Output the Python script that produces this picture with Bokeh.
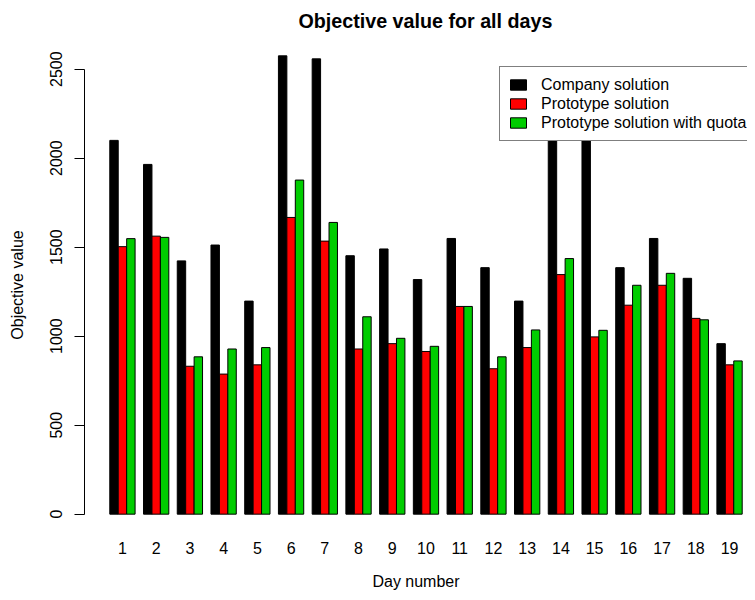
from bokeh.plotting import figure
from bokeh.models import Range1d, FixedTicker, Legend, LegendItem
from bokeh.embed import file_html
from bokeh.resources import INLINE

# ---- data ----
days = [str(i) for i in range(1, 20)]
company = [2100, 1965, 1423, 1512, 1197, 2575, 2558, 1452, 1490, 1318,
           1549, 1385, 1197, 2300, 2200, 1385, 1549, 1325, 958]
prototype = [1503, 1562, 831, 787, 839, 1667, 1534, 928, 958, 914,
             1167, 817, 936, 1346, 996, 1174, 1286, 1100, 839]
quota = [1548, 1555, 884, 928, 936, 1877, 1639, 1109, 988, 943,
         1167, 884, 1035, 1436, 1033, 1286, 1353, 1092, 861]
series_names = ["Company solution", "Prototype solution", "Prototype solution with quota"]
series_colors = ["#000000", "#FF0000", "#00CD00"]
y_ticks = [0, 500, 1000, 1500, 2000, 2500]

FONT = "Liberation Sans"

p = figure(width=747, height=592, output_backend="svg", toolbar_location=None,
           x_range=Range1d(-2, 76.63), y_range=Range1d(-103, 2678),
           min_border_left=84, min_border_right=0, min_border_top=37, min_border_bottom=58,
           title="Objective value for all days")
p.outline_line_color = None
p.xgrid.visible = False
p.ygrid.visible = False
p.background_fill_color = "white"
p.border_fill_color = "white"

p.title.text_font = FONT
p.title.text_font_size = "19.7px"
p.title.text_font_style = "bold"
p.title.align = "left"
p.title.offset = 214
p.title.standoff = 12
p.title.text_color = "black"

n = len(days)
renderers = []
for j, (vals, color) in enumerate(zip([company, prototype, quota], series_colors)):
    xs = [1 + 4 * i + j + 0.5 for i in range(n)]
    r = p.vbar(x=xs, top=vals, bottom=0, width=1, fill_color=color,
               line_color="black", line_width=1)
    renderers.append(r)

centers = [1 + 4 * i + 1.5 for i in range(n)]
p.xaxis.ticker = FixedTicker(ticks=centers)
p.xaxis.major_label_overrides = {c: d for c, d in zip(centers, days)}
p.xaxis.axis_line_color = None
p.xaxis.major_tick_line_color = None
p.xaxis.minor_tick_line_color = None
p.xaxis.major_label_standoff = 3
p.xaxis.major_label_text_font = FONT
p.xaxis.major_label_text_font_size = "16px"
p.xaxis.major_label_text_color = "black"
p.xaxis.axis_label = "Day number"
p.xaxis.axis_label_text_font = FONT
p.xaxis.axis_label_text_font_size = "16px"
p.xaxis.axis_label_text_font_style = "normal"
p.xaxis.axis_label_text_color = "black"
p.xaxis.axis_label_standoff = 16

p.yaxis.ticker = FixedTicker(ticks=y_ticks)
p.yaxis.bounds = (0, 2500)
p.yaxis.major_label_orientation = "vertical"
p.yaxis.minor_tick_line_color = None
p.yaxis.major_tick_in = 0
p.yaxis.major_tick_out = 10
p.yaxis.axis_line_color = "black"
p.yaxis.major_tick_line_color = "black"
p.yaxis.major_label_standoff = 12
p.yaxis.major_label_text_font = FONT
p.yaxis.major_label_text_font_size = "16px"
p.yaxis.major_label_text_color = "black"
p.yaxis.axis_label = "Objective value"
p.yaxis.axis_label_text_font = FONT
p.yaxis.axis_label_text_font_size = "16px"
p.yaxis.axis_label_text_font_style = "normal"
p.yaxis.axis_label_text_color = "black"
p.yaxis.axis_label_standoff = 22

legend = Legend(
    items=[LegendItem(label=nm, renderers=[r]) for nm, r in zip(series_names, renderers)],
    location=(415, 391),
    label_text_font=FONT, label_text_font_size="16px", label_text_color="black",
    glyph_width=20, glyph_height=13, label_height=19, spacing=0,
    padding=8, label_standoff=13, label_width=300,
    border_line_color="black", border_line_width=1,
    background_fill_color="white", background_fill_alpha=1.0, margin=0,
)
p.add_layout(legend)

open("out.html", "w").write(file_html(p, INLINE))
